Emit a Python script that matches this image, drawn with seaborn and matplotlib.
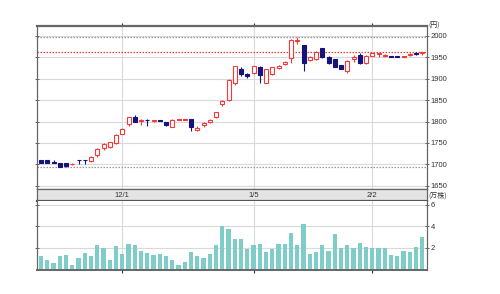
import matplotlib
matplotlib.use("Agg")
import matplotlib.pyplot as plt
import matplotlib.transforms as mtransforms
import numpy as np
import pandas as pd
import seaborn as sns

# ---------------- data ----------------
opens = [1710, 1710, 1706, 1703, 1702, 1700, 1710, 1710, 1707, 1721,
         1738, 1740, 1749, 1771, 1794, 1811, 1801, 1804, 1801, 1803,
         1798, 1788, 1804, 1804, 1805, 1781, 1791, 1799, 1810, 1840,
         1850, 1889, 1923, 1911, 1913, 1928, 1891, 1911, 1926, 1934,
         1948, 1988, 1979, 1944, 1946, 1971, 1952, 1946, 1932, 1918,
         1946, 1956, 1936, 1954, 1958, 1953, 1952, 1952, 1952, 1956,
         1961, 1960]
closes = [1704, 1704, 1703, 1694, 1695, 1701, 1709, 1709, 1718, 1735,
          1747, 1752, 1769, 1782, 1810, 1800, 1804, 1803, 1802, 1802,
          1791, 1804, 1805, 1805, 1788, 1786, 1797, 1804, 1822, 1847,
          1898, 1930, 1911, 1906, 1930, 1909, 1922, 1927, 1931, 1940,
          1991, 1990, 1936, 1952, 1963, 1950, 1936, 1928, 1923, 1942,
          1952, 1936, 1954, 1960, 1960, 1955, 1951, 1951, 1953, 1959,
          1957, 1962]
highs = [1711, 1711, 1709, 1704, 1703, 1702, 1710, 1710, 1719, 1738,
         1749, 1753, 1770, 1784, 1811, 1815, 1805, 1805, 1802, 1803,
         1799, 1805, 1805, 1805, 1806, 1789, 1799, 1805, 1823, 1850,
         1899, 1931, 1927, 1913, 1931, 1929, 1923, 1928, 1933, 1942,
         1992, 1997, 1980, 1954, 1964, 1972, 1953, 1947, 1933, 1943,
         1955, 1961, 1955, 1961, 1961, 1958, 1953, 1953, 1954, 1960,
         1962, 1962]
lows = [1702, 1703, 1702, 1693, 1694, 1698, 1701, 1701, 1705, 1718,
        1734, 1739, 1747, 1770, 1790, 1799, 1791, 1790, 1800, 1801,
        1790, 1787, 1803, 1803, 1779, 1777, 1788, 1797, 1808, 1837,
        1849, 1886, 1907, 1901, 1911, 1889, 1889, 1909, 1924, 1932,
        1938, 1982, 1918, 1941, 1944, 1949, 1935, 1927, 1922, 1913,
        1940, 1935, 1935, 1953, 1952, 1950, 1950, 1950, 1951, 1954,
        1956, 1955]
volume = [1.25, 0.84, 0.60, 1.25, 1.35, 0.42, 1.10, 1.50, 1.28, 2.28,
          2.00, 0.84, 2.20, 1.44, 2.34, 2.28, 1.75, 1.53, 1.37, 1.44,
          1.28, 0.84, 0.44, 0.69, 1.60, 1.28, 1.03, 1.44, 2.28, 4.00,
          3.78, 2.80, 2.87, 1.87, 2.28, 2.34, 1.60, 1.87, 2.34, 2.34,
          3.37, 2.28, 4.25, 1.44, 1.66, 2.28, 1.75, 3.28, 2.00, 2.28,
          2.00, 2.44, 2.10, 2.00, 2.00, 2.00, 1.34, 1.22, 1.72, 1.66,
          2.12, 2.97]
date_index = [13, 34, 53]
date_labels = ["12/1", "1/5", "2/2"]
price_ticks = [1650, 1700, 1750, 1800, 1850, 1900, 1950, 2000]
vol_ticks = [2, 4, 6]

df = pd.DataFrame({"open": opens, "close": closes, "high": highs,
                   "low": lows, "volume": volume})
df["idx"] = np.arange(len(df))
df["up"] = df["close"] >= df["open"]

# ---------------- style ----------------
sns.set_style("white")
plt.rcParams["font.family"] = ["Liberation Sans", "DejaVu Sans"]
plt.rcParams["font.size"] = 5.5

RED = "#f23a3a"
BLUE = "#14147a"
VOLC = "#7fcdc9"
GRID = "#d9d9d9"
FRAME = "#666666"
TXT = "#333333"

fig = plt.figure(figsize=(5.0, 2.94), dpi=100)
ax = fig.add_axes([0.074, 0.3571, 0.78, 0.5545])
ax_s = fig.add_axes([0.074, 0.3163, 0.78, 0.0408], sharex=ax)
ax_v = fig.add_axes([0.074, 0.0833, 0.78, 0.233], sharex=ax)

xlo, xhi = -0.65, len(df) - 1 + 0.75

# ---------------- price panel ----------------
for p in price_ticks[1:]:
    pass
ax.set_ylim(1642.3, 2023.4)
ax.set_xlim(xlo, xhi)
ax.set_yticks(price_ticks)
ax.yaxis.grid(True, color=GRID, lw=0.8)
ax.set_xticks(date_index)
ax.xaxis.grid(True, color=GRID, lw=0.8)
ax.set_axisbelow(True)

# reference lines: max high, min low, last close
ax.axhline(df["high"].max() + 1, color="#999999", lw=0.9, ls=(0, (1.2, 1.2)), zorder=1)
ax.axhline(df["low"].min(), color="#999999", lw=0.9, ls=(0, (1.2, 1.2)), zorder=1)
ax.axhline(df["close"].iloc[-1], color=RED, lw=0.9, ls=(0, (1.2, 1.2)), zorder=1)

w = 0.62
for _, r in df.iterrows():
    col = RED if r["up"] else BLUE
    ax.vlines(r["idx"], r["low"], r["high"], color=col, lw=0.8, zorder=2)
    bot = min(r["open"], r["close"])
    h = max(abs(r["close"] - r["open"]), 1.6)
    if r["up"]:
        ax.bar(r["idx"], h, bottom=bot, width=w, facecolor="white",
               edgecolor=col, linewidth=0.8, zorder=3)
    else:
        ax.bar(r["idx"], h, bottom=bot, width=w, facecolor=col,
               edgecolor=col, linewidth=0.8, zorder=3)

ax.yaxis.tick_right()
ax.tick_params(axis="y", which="both", direction="inout", length=3,
               width=0.7, color=FRAME, labelcolor=TXT, labelsize=5.5, pad=1,
               left=True, right=True, labelleft=False, labelright=True)
ax.tick_params(axis="x", direction="out", length=2, width=0.8, color="#333333",
               top=True, bottom=False, labeltop=False, labelbottom=False)
for s in ax.spines.values():
    s.set_color(FRAME)
    s.set_linewidth(0.9)
ax.spines["top"].set_linewidth(1.6)
ax.text(1.003, 1.0, "(円)", transform=ax.transAxes, ha="left", va="center",
        fontsize=5, color=TXT, family=["Noto Sans CJK JP", "DejaVu Sans"])

# ---------------- date strip ----------------
ax_s.set_facecolor("#e4e4e4")
ax_s.set_ylim(0, 1)
ax_s.set_yticks([])
ax_s.tick_params(axis="x", length=0, labelbottom=False)
for s in ax_s.spines.values():
    s.set_color(FRAME)
    s.set_linewidth(0.9)
ax_s.spines["bottom"].set_linewidth(1.6)
ax_s.spines["bottom"].set_color("#555555")
trans = mtransforms.blended_transform_factory(ax_s.transData, ax_s.transAxes)
for pos, lab in zip(date_index, date_labels):
    ax_s.text(pos, 0.45, lab, transform=trans, ha="center", va="center",
              fontsize=5.5, color=TXT)
ax_s.text(1.003, 0.45, "(万株)", transform=ax_s.transAxes, ha="left",
          va="center", fontsize=5, color=TXT,
          family=["Noto Sans CJK JP", "DejaVu Sans"])

# ---------------- volume panel ----------------
sns.barplot(data=df, x="idx", y="volume", native_scale=True, color=VOLC,
            saturation=1, width=0.68, linewidth=0, ax=ax_v, zorder=2)
ax_v.set_xlim(xlo, xhi)
ax_v.set_ylim(0, 6.35)
ax_v.set_yticks(vol_ticks)
ax_v.yaxis.grid(True, color=GRID, lw=0.8)
ax_v.set_xticks(date_index)
ax_v.set_xticklabels([])
ax_v.xaxis.grid(True, color=GRID, lw=0.8)
ax_v.set_axisbelow(True)
ax_v.set_xlabel("")
ax_v.set_ylabel("")
ax_v.yaxis.tick_right()
ax_v.tick_params(axis="y", direction="inout", length=3, width=0.7,
                 color=FRAME, labelcolor=TXT, labelsize=5.5, pad=1,
                 left=True, right=True, labelleft=False, labelright=True)
ax_v.tick_params(axis="x", direction="out", length=2, width=0.8,
                 color="#333333", bottom=True, top=False)
for s in ax_v.spines.values():
    s.set_color(FRAME)
    s.set_linewidth(0.9)
ax_v.spines["top"].set_visible(False)
ax_v.spines["bottom"].set_linewidth(1.4)

fig.savefig("out.png", dpi=100)
